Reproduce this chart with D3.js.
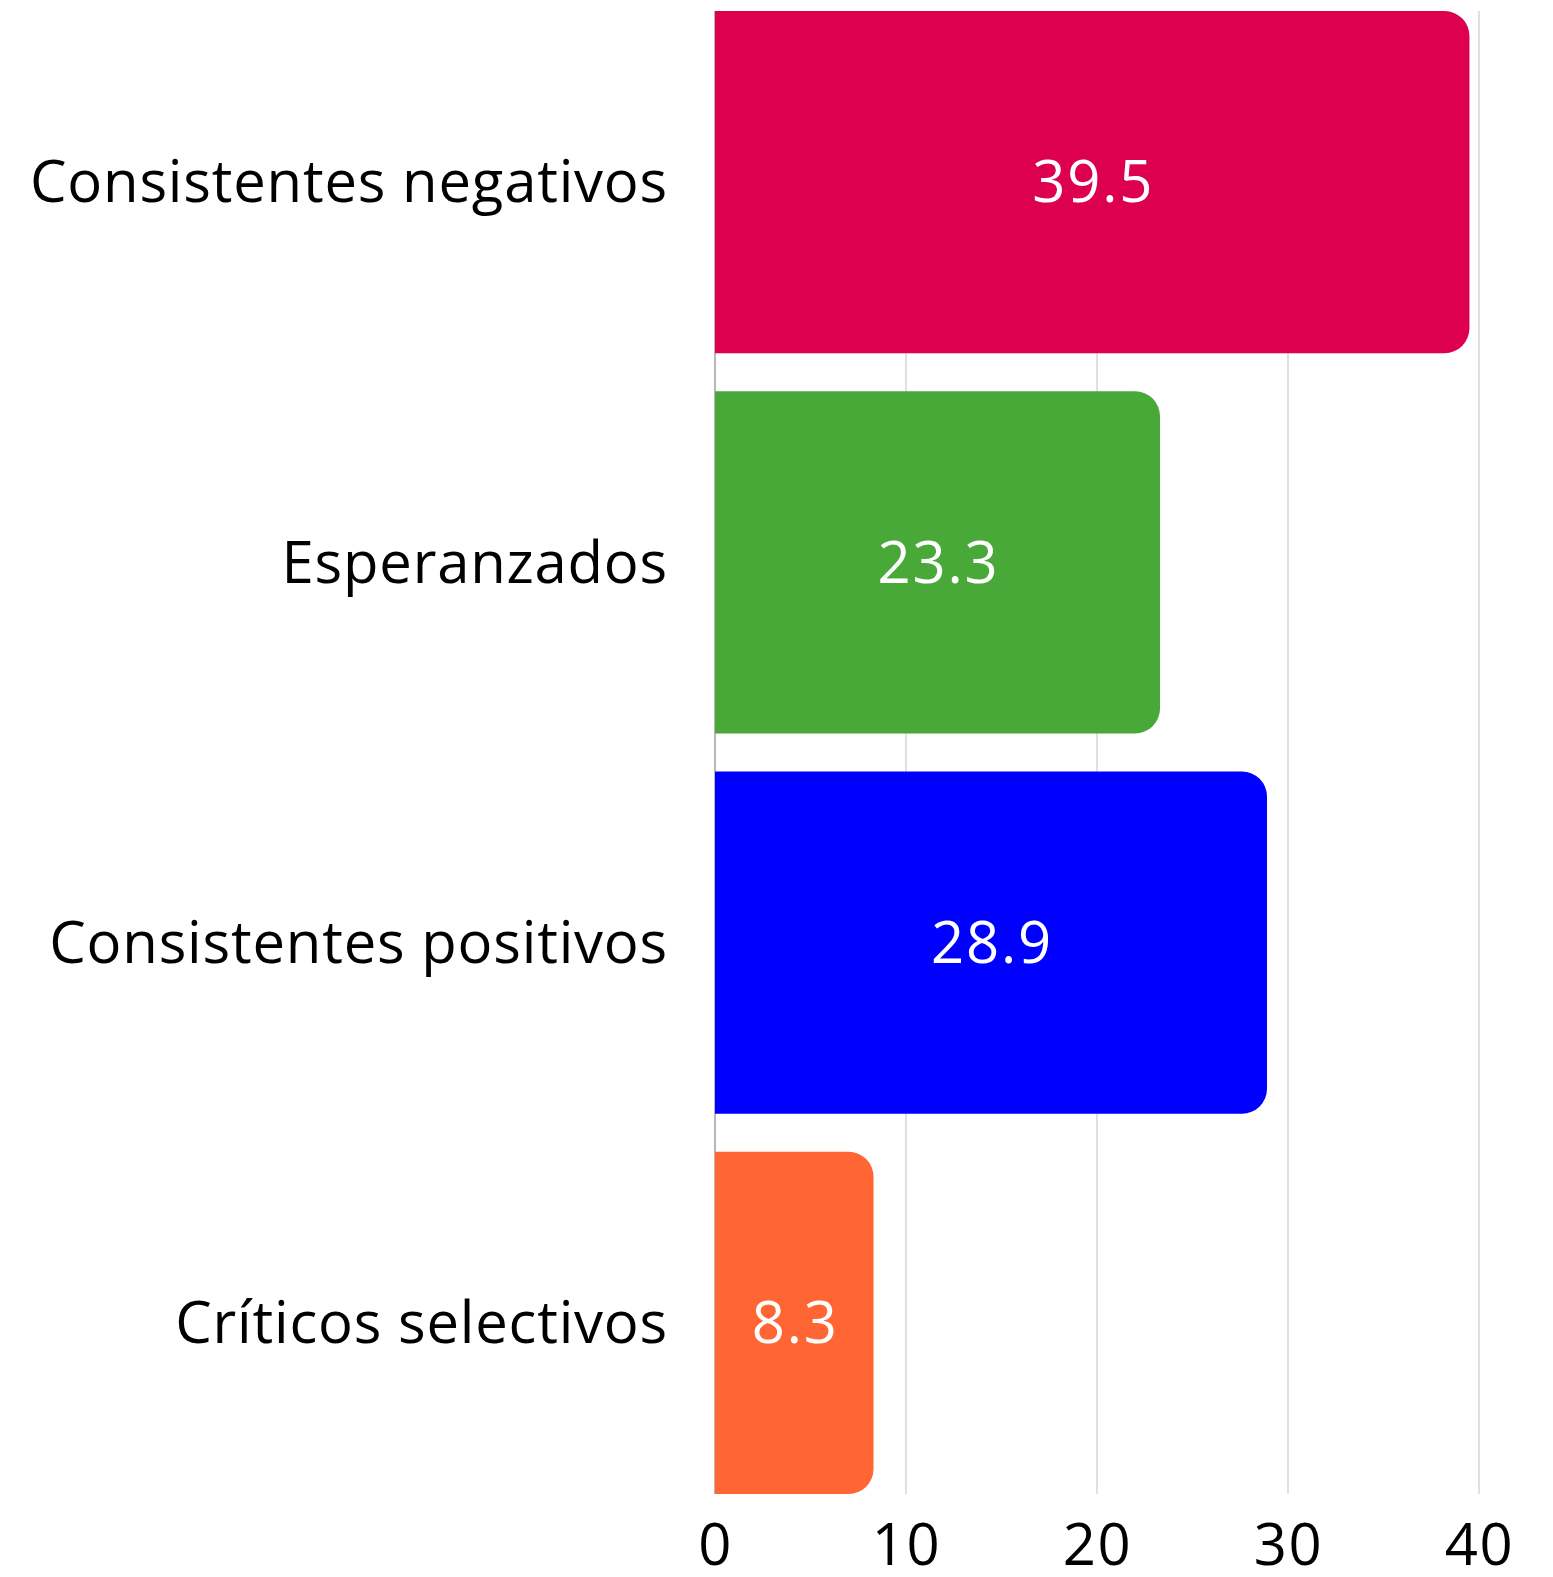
<!DOCTYPE html>
<html><head><meta charset="utf-8">
<script src="https://cdn.jsdelivr.net/npm/d3@7"></script>
<style>body{margin:0;background:#fff}svg{display:block}</style>
</head><body>
<script>
const categories = ["Consistentes negativos","Esperanzados","Consistentes positivos","Críticos selectivos"];
const values = [39.5, 23.3, 28.9, 8.3];
const colors = ["#DC004E","#48A838","#0000FF","#FF6633"];
const ticks = [0,10,20,30,40];

const W = 1553, H = 1577;
const margin = {left: 715, right: 74, top: 11, bottom: 83};
const font = "'Open Sans', sans-serif";
const fs = 58;

const svg = d3.select("body").append("svg").attr("width", W).attr("height", H);
const x = d3.scaleLinear().domain([0, 40]).range([margin.left, W - margin.right]);
const y = d3.scaleBand().domain(categories).range([margin.top, H - margin.bottom]).paddingInner(0.1).paddingOuter(0);

// gridlines
svg.append("g").selectAll("line").data(ticks.filter(t => t > 0)).join("line")
  .attr("x1", d => x(d)).attr("x2", d => x(d))
  .attr("y1", margin.top).attr("y2", H - margin.bottom)
  .attr("stroke", "#cccccc").attr("stroke-width", 1.2);

// zero line
svg.append("line").attr("x1", x(0)).attr("x2", x(0))
  .attr("y1", margin.top).attr("y2", H - margin.bottom)
  .attr("stroke", "#888").attr("stroke-width", 1.2);

const r = 25;
function barPath(x0, x1, y0, h) {
  const rr = Math.min(r, (x1 - x0), h / 2);
  return `M${x0},${y0}H${x1 - rr}A${rr},${rr} 0 0 1 ${x1},${y0 + rr}V${y0 + h - rr}A${rr},${rr} 0 0 1 ${x1 - rr},${y0 + h}H${x0}Z`;
}

const data = categories.map((c, i) => ({c, v: values[i], col: colors[i]}));

svg.append("g").selectAll("path").data(data).join("path")
  .attr("d", d => barPath(x(0), x(d.v), y(d.c), y.bandwidth()))
  .attr("fill", d => d.col);

// value labels
svg.append("g").selectAll("text").data(data).join("text")
  .attr("x", d => (x(0) + x(d.v)) / 2 + 1)
  .attr("y", d => y(d.c) + y.bandwidth() / 2)
  .attr("dy", "0.35em")
  .attr("text-anchor", "middle")
  .attr("fill", "#fff")
  .attr("letter-spacing", 1.8)
  .attr("font-family", font).attr("font-size", fs)
  .text(d => d.v);

// category labels
svg.append("g").selectAll("text").data(data).join("text")
  .attr("x", x(0) - 47)
  .attr("y", d => y(d.c) + y.bandwidth() / 2)
  .attr("dy", "0.35em")
  .attr("text-anchor", "end")
  .attr("fill", "#000")
  .attr("letter-spacing", 0.8)
  .attr("font-family", font).attr("font-size", fs)
  .text(d => d.c);

// x axis tick labels
const xAxis = d3.axisBottom(x).tickValues(ticks).tickSize(0).tickPadding(0);
const ga = svg.append("g").attr("transform", `translate(0,${H - margin.bottom})`).call(xAxis);
ga.select(".domain").remove();
ga.selectAll("text").attr("font-family", font).attr("font-size", fs).attr("fill", "#000")
  .attr("letter-spacing", 1.5)
  .attr("y", 71).attr("dy", 0);
</script>
</body></html>
